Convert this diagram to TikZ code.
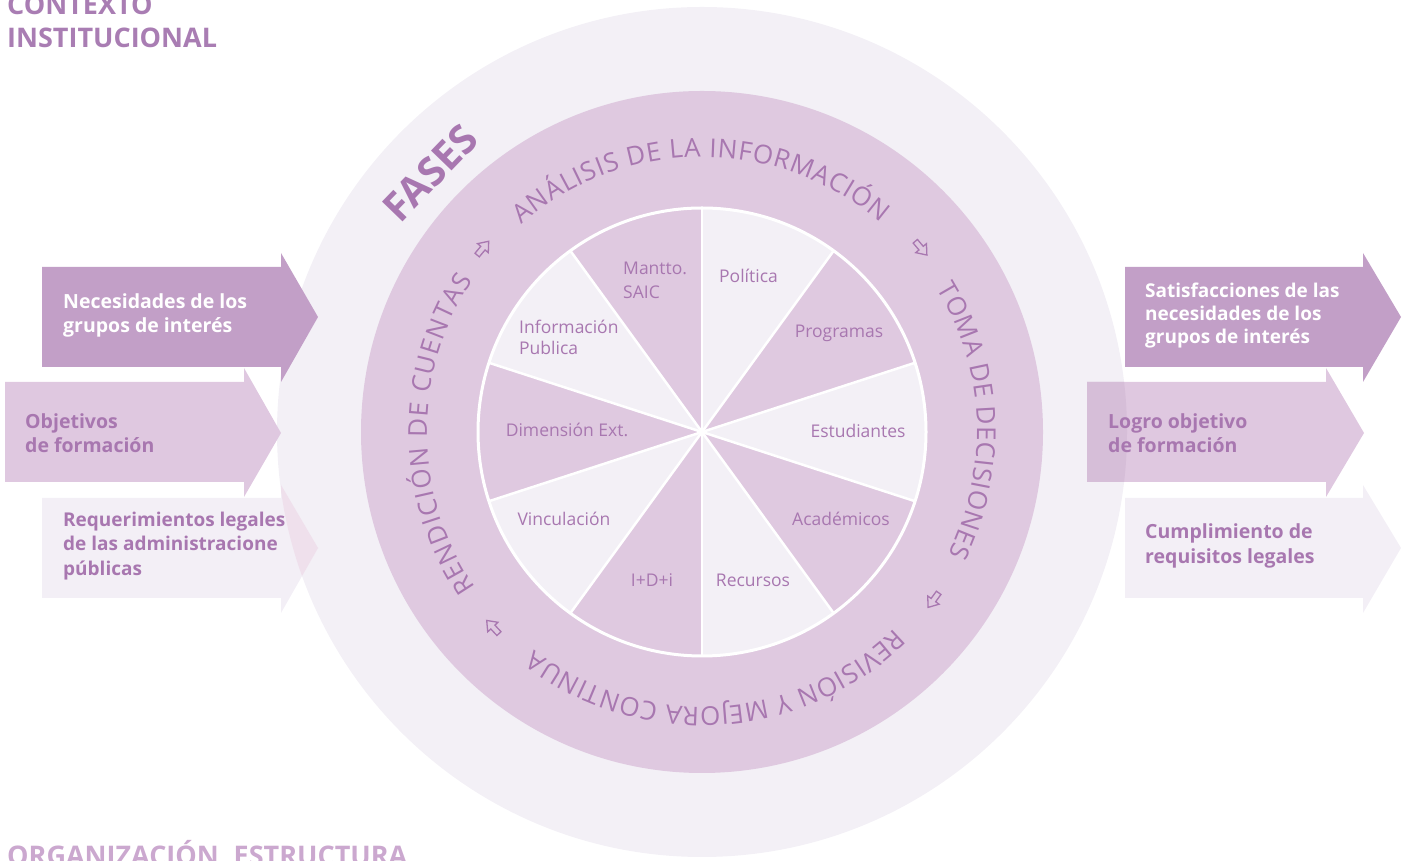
\documentclass[tikz,border=0pt]{standalone}
\usepackage{fontspec}
\setmainfont{Open Sans}
\usetikzlibrary{decorations.text}
\definecolor{outerc}{HTML}{F3F0F6}
\definecolor{ringc}{HTML}{DFC9E0}
\definecolor{darkbox}{HTML}{C29FC7}
\definecolor{midbox}{HTML}{DFC8E0}
\definecolor{lightbox}{HTML}{F3EFF6}
\definecolor{lightover}{HTML}{EFE0EC}
\definecolor{midover}{HTML}{D6BED8}
\definecolor{txt}{HTML}{A877B0}
\definecolor{headc}{HTML}{A97DB3}
\definecolor{orgc}{HTML}{CBA8CF}
\newcommand{\arcfont}{\fontsize{26}{26}\selectfont}
\tikzset{
  boxtxt/.style={anchor=west, align=left, inner sep=0pt, font=\fontsize{19.5}{24.5}\selectfont\bfseries},
  pietxt/.style={inner sep=0pt, text=txt, font=\fontsize{17.5}{22}\selectfont},
  headtxt/.style={anchor=base west, inner sep=0pt, font=\fontsize{27}{33}\selectfont\bfseries},
  arctxt/.style={decorate, decoration={text along path, text color=txt, text align={fit to path}}},
  hollow/.style={draw=txt, line width=1.3pt, line join=miter}
}
\begin{document}
\begin{tikzpicture}[x=1pt,y=1pt]
\useasboundingbox (0,0) rectangle (1410,861);
\coordinate (C) at (702,429);
% outer circle and ring
\fill[outerc] (C) circle[radius=425];
\fill[ringc] (C) circle[radius=341];
% light slices
\foreach \k in {0,2,4,6,8}{
  \fill[outerc] (C) -- ([shift={(90-36*\k:224)}]C) arc[start angle=90-36*\k, end angle=54-36*\k, radius=224] -- cycle;
}
\foreach \k in {0,...,9}{
  \draw[white, line width=2.5pt] (C) -- ([shift={(90+36*\k:224)}]C);
}
\draw[white, line width=3pt] (C) circle[radius=224];
% arc texts
\path[arctxt, decoration={text={|\arcfont|ANÁLISIS DE LA INFORMACIÓN}}]
  ([shift={(131:275)}]C) arc[start angle=131, end angle=49.5, radius=275];
\path[arctxt, decoration={text={|\arcfont|TOMA DE DECISIONES}}]
  ([shift={(31.5:275)}]C) arc[start angle=31.5, end angle=-26.5, radius=275];
\path[arctxt, decoration={text={|\arcfont|REVISIÓN Y MEJORA CONTINUA}}]
  ([shift={(-45.5:275)}]C) arc[start angle=-45.5, end angle=-127.5, radius=275];
\path[arctxt, decoration={text={|\arcfont|RENDICIÓN DE CUENTAS}}]
  ([shift={(214.5:275)}]C) arc[start angle=214.5, end angle=146.5, radius=275];
% hollow arrows
\foreach \a in {140,40,-36,-137}{
  \begin{scope}[shift={(C)}]
  \begin{scope}[shift={(\a:286)}, rotate=\a-90]
    \draw[hollow] (-9,-2.8) -- (0,-2.8) -- (0,-7) -- (9,0) -- (0,7) -- (0,2.8) -- (-9,2.8) -- cycle;
  \end{scope}
  \end{scope}
}
% FASES
\node[rotate=46, inner sep=0pt, text=txt, font=\fontsize{40}{40}\selectfont\bfseries] (fases) at (430,688) {FASES};
% pie labels
\node[pietxt, anchor=west] (pol) at (719,585) {Política};
\node[pietxt, anchor=west, align=left, font=\fontsize{17.5}{24}\selectfont] (mant) at (623,581) {Mantto.\\SAIC};
\node[pietxt, anchor=west, align=left, font=\fontsize{17.5}{21.5}\selectfont] (info) at (519,523.5) {Información\\Publica};
\node[pietxt] (prog) at (839,528) {Programas};
\node[pietxt] (estu) at (858,430) {Estudiantes};
\node[pietxt] (acad) at (841,342) {Académicos};
\node[pietxt] (recu) at (753,281) {Recursos};
\node[pietxt] (idi) at (652,281) {I+D+i};
\node[pietxt] (vinc) at (564,342) {Vinculación};
\node[pietxt] (dime) at (567,431) {Dimensión Ext.};
% left boxes
\fill[darkbox] (42,494) -- (281,494) -- (281,479) -- (318,544) -- (281,608) -- (281,594) -- (42,594) -- cycle;
\fill[midbox] (5,379) -- (244,379) -- (244,364) -- (281,428) -- (244,493) -- (244,479) -- (5,479) -- cycle;
\fill[lightbox] (42,263) -- (281,263) -- (281,248) -- (318,313) -- (281,376) -- (281,363) -- (42,363) -- cycle;
\begin{scope}
  \clip (C) circle[radius=425];
  \fill[lightover] (42,263) -- (281,263) -- (281,248) -- (318,313) -- (281,376) -- (281,363) -- (42,363) -- cycle;
\end{scope}
% right boxes
\fill[darkbox] (1125,494) -- (1363,494) -- (1363,479) -- (1401,544) -- (1363,608) -- (1363,594) -- (1125,594) -- cycle;
\fill[midbox] (1087,379) -- (1326,379) -- (1326,364) -- (1364,428) -- (1326,493) -- (1326,479) -- (1087,479) -- cycle;
\begin{scope}
  \clip (C) circle[radius=425];
  \fill[midover] (1087,379) -- (1326,379) -- (1326,364) -- (1364,428) -- (1326,493) -- (1326,479) -- (1087,479) -- cycle;
\end{scope}
\fill[lightbox] (1125,263) -- (1363,263) -- (1363,248) -- (1401,313) -- (1363,376) -- (1363,363) -- (1125,363) -- cycle;
% box texts
\node[boxtxt, text=white] (nec) at (63,545.5) {Necesidades de los\\grupos de interés};
\node[boxtxt, text=txt] (obj) at (25,428) {Objetivos\\de formación};
\node[boxtxt, text=txt, font=\fontsize{19}{24.5}\selectfont\bfseries] (req) at (63,315) {Requerimientos legales\\de las administracione\\públicas};
\node[boxtxt, text=white, font=\fontsize{19}{23}\selectfont\bfseries] (sat) at (1145,545) {Satisfacciones de las\\necesidades de los\\grupos de interés};
\node[boxtxt, text=txt] (log) at (1108,428) {Logro objetivo\\de formación};
\node[boxtxt, text=txt] (cum) at (1145,315) {Cumplimiento de\\requisitos legales};
% headers
\node[headtxt, text=headc] (ctx) at (7,846) {CONTEXTO};
\node[headtxt, text=headc] (ins) at (7,813) {INSTITUCIONAL};
\node[headtxt, text=orgc] (org) at (7,-5) {ORGANIZACIÓN, ESTRUCTURA};
\end{tikzpicture}
\end{document}
